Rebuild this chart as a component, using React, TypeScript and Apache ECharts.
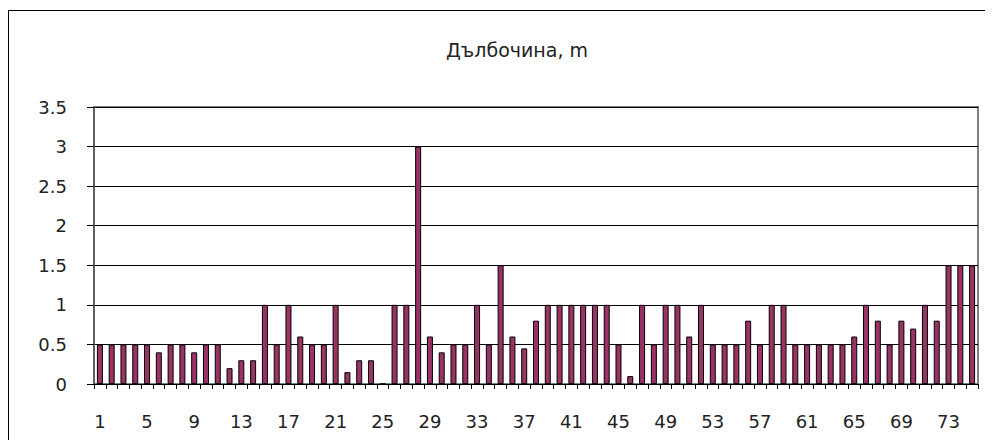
import React, { useEffect, useRef } from "react";
import * as echarts from "echarts";

const titleText = "Дълбочина, m";
const categories: string[] = Array.from({ length: 75 }, (_, i) => String(i + 1));
const depths: number[] = [
  0.5, 0.5, 0.5, 0.5, 0.5, 0.4, 0.5, 0.5, 0.4, 0.5, 0.5,
  0.2, 0.3, 0.3,
  1, 0.5, 1, 0.6, 0.5, 0.5,
  1, 0.15, 0.3, 0.3, 0,
  1, 1, 3, 0.6, 0.4,
  0.5, 0.5, 1, 0.5, 1.5, 0.6, 0.45, 0.8,
  1, 1, 1, 1, 1, 1,
  0.5, 0.1, 1, 0.5, 1, 1,
  0.6, 1, 0.5, 0.5, 0.5, 0.8, 0.5,
  1, 1, 0.5, 0.5, 0.5, 0.5, 0.5,
  0.6, 1, 0.8, 0.5, 0.8, 0.7, 1, 0.8, 1.5, 1.5, 1.5,
];

export default function App() {
  const ref = useRef<HTMLDivElement>(null);
  useEffect(() => {
    if (!ref.current) return;
    const chart = echarts.init(ref.current, undefined, { renderer: "svg" });
    const font = "'DejaVu Sans', sans-serif";
    chart.setOption({
      animation: false,
      backgroundColor: "#ffffff",
      title: {
        text: titleText,
        left: 504,
        top: 27,
        textAlign: "center",
        textStyle: { fontFamily: font, fontSize: 19, fontWeight: "normal", color: "#222" },
      },
      graphic: [
        {
          type: "rect",
          shape: { x: 0.5, y: 2.5, width: 1200, height: 1200 },
          style: { fill: "none", stroke: "#000", lineWidth: 1 },
          silent: true,
        },
      ],
      grid: {
        left: 86,
        right: 7,
        top: 99,
        bottom: 56,
        show: true,
        borderColor: "#808080",
        borderWidth: 2,
        backgroundColor: "transparent",
      },
      xAxis: {
        type: "category",
        data: categories,
        boundaryGap: true,
        axisLine: { show: true, lineStyle: { color: "#000", width: 1 } },
        axisTick: { show: true, interval: 0, length: 5, lineStyle: { color: "#000" } },
        axisLabel: {
          interval: 3,
          margin: 28,
          fontFamily: font,
          fontSize: 18,
          color: "#222",
        },
        splitLine: { show: false },
      },
      yAxis: {
        type: "value",
        min: 0,
        max: 3.5,
        interval: 0.5,
        axisLine: { show: true, lineStyle: { color: "#606060", width: 2 } },
        axisTick: { show: true, length: 7, lineStyle: { color: "#000" } },
        axisLabel: { margin: 27, fontFamily: font, fontSize: 18, color: "#222" },
        splitLine: { show: true, lineStyle: { color: "#000", width: 1 } },
      },
      series: [
        {
          type: "bar",
          data: depths,
          barWidth: 6,
          itemStyle: { color: "#993366", borderColor: "#000", borderWidth: 1 },
        },
      ],
    });
    return () => chart.dispose();
  }, []);
  return <div ref={ref} style={{ width: 977, height: 432 }} />;
}
